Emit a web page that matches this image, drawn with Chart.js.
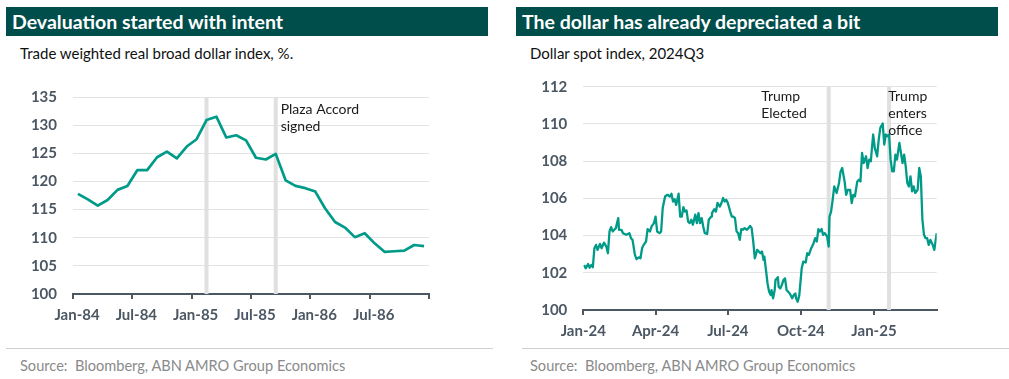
<!DOCTYPE html>
<html><head><meta charset="utf-8">
<script src="https://cdn.jsdelivr.net/npm/chart.js@4.4.1/dist/chart.umd.min.js"></script>
<style>
html,body{margin:0;padding:0;background:#fff;}
body{width:1009px;height:379px;position:relative;overflow:hidden;font-family:Lato,"Noto Sans",sans-serif;}
.bar{position:absolute;top:7px;height:29px;background:#004e4b;color:#fff;font-weight:700;font-size:19.5px;line-height:29px;padding-left:6px;box-sizing:border-box;white-space:nowrap;}
.sub{position:absolute;top:44px;font-size:15px;color:#111;line-height:18px;white-space:nowrap;}
.sep{position:absolute;top:348px;height:1px;background:#d0d0d0;}
.src{position:absolute;top:357px;font-size:14.6px;color:#8a8a8a;line-height:18px;white-space:nowrap;}
canvas{position:absolute;top:60px;}
</style></head>
<body>
<div class="bar" style="left:6px;width:482px">Devaluation started with intent</div>
<div class="bar" style="left:516px;width:482px">The dollar has already depreciated a bit</div>
<div class="sub" style="left:20px">Trade weighted real broad dollar index, %.</div>
<div class="sub" style="left:530px">Dollar spot index, 2024Q3</div>
<canvas id="left" width="500" height="280" style="left:0px"></canvas>
<canvas id="right" width="509" height="280" style="left:500px"></canvas>
<div class="sep" style="left:6px;width:487px"></div>
<div class="sep" style="left:522px;width:487px"></div>
<div class="src" style="left:20px">Source:&nbsp; Bloomberg, ABN AMRO Group Economics</div>
<div class="src" style="left:530px">Source:&nbsp; Bloomberg, ABN AMRO Group Economics</div>
<script>
// ---------- Left chart data: trade weighted real broad dollar index (monthly) ----------
const tradeMonths = ['Jan-84','Feb-84','Mar-84','Apr-84','May-84','Jun-84','Jul-84','Aug-84','Sep-84','Oct-84','Nov-84','Dec-84',
  'Jan-85','Feb-85','Mar-85','Apr-85','May-85','Jun-85','Jul-85','Aug-85','Sep-85','Oct-85','Nov-85','Dec-85',
  'Jan-86','Feb-86','Mar-86','Apr-86','May-86','Jun-86','Jul-86','Aug-86','Sep-86','Oct-86','Nov-86','Dec-86'];
const tradeIndex = [117.8,116.8,115.7,116.7,118.5,119.2,122.0,122.0,124.3,125.3,124.1,126.2,
  127.5,130.9,131.5,127.8,128.2,127.3,124.2,123.9,124.9,120.2,119.2,118.8,
  118.2,115.2,112.8,111.8,110.1,110.8,109.0,107.5,107.6,107.7,108.7,108.5];
const tradeTickLabels = ['Jan-84','Jul-84','Jan-85','Jul-85','Jan-86','Jul-86'];
const tradeEvents = ['Feb-85','Sep-85'];
const tradeNote = ['Plaza Accord','signed'];

// ---------- Right chart data: dollar spot index (days since 2024-01-01) ----------
const spotDays = [1,3,6,8,10,12,14,16,18,21,
  23,26,29,31,33,35,37,39,41,44,
  45,48,50,54,58,60,62,65,67,70,
  72,74,76,79,81,84,86,89,91,93,
  96,98,100,103,106,109,111,113,115,117,
  120,122,124,126,128,130,132,134,136,138,
  141,143,145,147,149,151,153,156,158,161,
  162,165,167,169,172,174,176,178,180,182,
  185,187,189,191,193,195,197,199,201,203,
  206,208,210,212,214,216,219,221,223,225,
  227,228,230,232,234,236,237,239,241,242,
  245,246,248,250,252,254,256,258,260,263,
  265,267,268,270,272,275,277,280,282,284,
  287,290,292,294,296,298,300,302,304,307,
  309,310,312,314,316,319,322,324,326,329,
  331,333,336,338,340,342,345,347,349,351,
  353,356,358,360,362,365,367,370,372,374,
  377,379,381,383,385,387,389,391,393,395,
  398,400,402,404,406,408,410,412,414,416,
  418,421,423,425,427,429,431,433,435,437,
  440,442,445];
const spotValues = [102.42,102.24,102.47,102.27,102.42,102.30,103.32,103.50,103.23,103.55,
  103.32,103.62,103.41,103.05,104.22,104.45,104.22,104.31,104.40,104.94,
  104.31,104.31,104.13,104.04,104.13,103.86,103.77,102.96,102.73,102.83,
  102.78,103.32,103.50,103.68,104.35,104.22,104.49,104.67,105.02,104.22,
  104.13,104.22,105.48,106.10,106.19,106.10,106.25,105.83,105.96,105.65,
  106.25,105.02,105.02,105.53,105.29,105.35,104.75,104.67,104.85,104.58,
  105.12,104.67,105.21,104.67,104.94,104.49,104.13,104.09,104.85,105.02,
  105.21,105.42,105.29,105.75,105.56,105.75,106.02,105.83,105.92,105.75,
  105.29,105.02,105.02,104.94,104.22,104.13,103.77,104.35,104.31,104.40,
  104.31,104.40,104.52,104.40,103.68,102.78,103.23,103.14,103.05,103.14,
  102.69,102.87,102.15,101.43,100.98,100.80,101.07,100.63,101.07,101.61,
  101.76,101.25,101.16,101.34,101.61,101.70,101.07,100.98,100.89,100.63,
  100.80,100.89,100.63,100.44,100.80,102.24,102.60,102.55,103.05,102.96,
  103.32,103.59,103.86,103.68,104.35,104.22,104.35,104.04,104.13,103.95,
  103.41,105.02,105.29,105.92,106.64,106.29,106.83,107.45,107.63,106.91,
  106.19,106.46,106.46,105.75,106.19,106.10,106.91,107.00,106.91,108.44,
  107.90,108.26,107.63,108.08,107.99,109.43,108.71,108.26,109.16,109.79,
  110.02,108.89,109.43,109.34,109.43,108.08,107.45,107.45,108.35,108.08,
  108.98,108.44,107.90,108.35,107.72,106.82,106.64,107.18,106.37,106.64,
  106.29,106.46,107.63,107.18,104.85,104.04,103.86,103.86,103.50,103.77,
  103.50,103.23,104.13];
const spotTickDays = [0,91,182,274,366];
const spotTickLabels = ['Jan-24','Apr-24','Jul-24','Oct-24','Jan-25'];
const spotEndDay = 445;
const spotEventDays = [309,385]; // 2024-11-05, 2025-01-20
const spotNotes = [{day:224, lines:['Trump','Elected']},{day:384, lines:['Trump','enters','office']}];

// ---------- styling ----------
const LINE = '#009b88';
const AXIS = '#4b5763';
const GRID = '#e3e3e3';
const EVENT = '#e0e0e0';
const tickFont = {family:'Lato', size:15, weight:'bold'};

const eventPlugin = {
  id:'eventLines',
  beforeDatasetsDraw(chart, args, opts){
    const {ctx, chartArea:a, scales:{x}} = chart;
    ctx.save();
    ctx.fillStyle = EVENT;
    (opts.values||[]).forEach(v=>{
      const px = x.getPixelForValue(v);
      ctx.fillRect(px-2, a.top, 4, a.bottom-a.top);
    });
    ctx.restore();
  },
  afterDatasetsDraw(chart, args, opts){
    const {ctx, scales:{x,y}} = chart;
    ctx.save();
    ctx.fillStyle = '#1a1a1a';
    ctx.font = '14px Lato, "Noto Sans", sans-serif';
    ctx.textAlign = 'left';
    ctx.textBaseline = 'middle';
    (opts.notes||[]).forEach(n=>{
      const px = x.getPixelForValue(n.x), py = y.getPixelForValue(n.y);
      n.lines.forEach((t,i)=>ctx.fillText(t, px, py + i*17));
    });
    ctx.restore();
  }
};

function xScale(min,max,tickVals,labels,height,labelOffset){
  return {
    type:'linear', min, max,
    afterBuildTicks:s=>{ s.ticks = tickVals.map(v=>({value:v})); },
    afterFit:s=>{ s.height = height; },
    grid:{drawOnChartArea:false, drawTicks:true, tickLength:5, color:AXIS, lineWidth:2},
    border:{display:true, color:AXIS, width:2},
    ticks:{autoSkip:false, maxRotation:0, padding:7, labelOffset, color:AXIS, font:tickFont,
      callback:(v,i)=>labels[i]||''}
  };
}
function yScale(min,max,step,width){
  return {
    min, max,
    afterFit:s=>{ s.width = width; },
    ticks:{stepSize:step, padding:16, color:AXIS, font:tickFont},
    grid:{color:GRID, drawTicks:false, lineWidth:1},
    border:{display:false}
  };
}

// Left chart
const tradeTickVals = tradeTickLabels.map(l=>tradeMonths.indexOf(l)).concat([tradeMonths.length]);
new Chart(document.getElementById('left'), {
  type:'line',
  data:{datasets:[{data: tradeIndex.map((v,i)=>({x:i+0.5, y:v})),
    borderColor:LINE, borderWidth:2.7, pointRadius:0, tension:0, fill:false, borderJoinStyle:'round'}]},
  options:{
    responsive:false, animation:false, events:[],
    layout:{padding:{left:0, right:71, top:37, bottom:0}},
    plugins:{legend:{display:false}, tooltip:{enabled:false},
      eventLines:{values: tradeEvents.map(m=>tradeMonths.indexOf(m)+0.5),
        notes:[{x: tradeMonths.indexOf('Sep-85')+1.0, y:132.8, lines: tradeNote}]}},
    scales:{
      x: xScale(0, tradeMonths.length, tradeTickVals, tradeTickLabels, 46, 4),
      y: yScale(100, 135, 5, 73)
    }
  },
  plugins:[eventPlugin]
});

// Right chart
new Chart(document.getElementById('right'), {
  type:'line',
  data:{datasets:[{data: spotValues.map((v,i)=>({x:spotDays[i], y:v})),
    borderColor:LINE, borderWidth:2.3, pointRadius:0, tension:0, fill:false, borderJoinStyle:'round'}]},
  options:{
    responsive:false, animation:false, events:[],
    layout:{padding:{left:0, right:72.3, top:26.7, bottom:0}},
    plugins:{legend:{display:false}, tooltip:{enabled:false},
      eventLines:{values: spotEventDays,
        notes: spotNotes.map(n=>({x:n.day, y:111.5, lines:n.lines}))}},
    scales:{
      x: xScale(0, spotEndDay, spotTickDays, spotTickLabels, 30, 0),
      y: yScale(100, 112, 2, 83.3)
    }
  },
  plugins:[eventPlugin]
});
</script>
</body></html>
